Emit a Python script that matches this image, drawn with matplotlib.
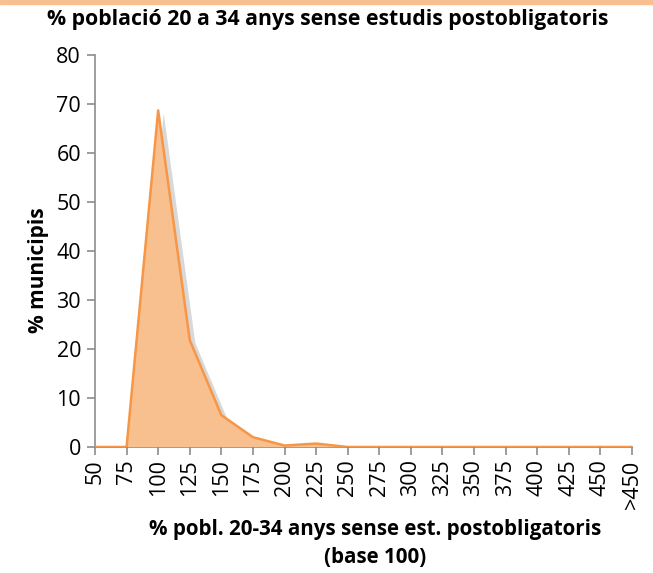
import numpy as np
import matplotlib.pyplot as plt
import matplotlib.patheffects as pe

plt.rcParams['font.family'] = ['Open Sans', 'DejaVu Sans']

categories = ['50', '75', '100', '125', '150', '175', '200', '225', '250', '275',
              '300', '325', '350', '375', '400', '425', '450', '>450']
values = [0, 0, 68.7, 21.8, 6.5, 2.0, 0.3, 0.7, 0, 0,
          0, 0, 0, 0, 0, 0, 0, 0]

fill_color = '#f9c08f'
line_color = '#f79646'
axis_color = '#8c8c8c'

fig = plt.figure(figsize=(6.53, 5.73), dpi=100)
ax = fig.add_axes([95 / 653, 1 - 447 / 573, (632 - 95) / 653, (447 - 55) / 573])

x = np.arange(len(categories))
poly = ax.fill_between(x, values, 0, color=fill_color, lw=0, zorder=2)
poly.set_path_effects([pe.SimplePatchShadow(offset=(4, -2), shadow_rgbFace='#808080', alpha=0.3),
                       pe.Normal()])
ax.plot(x, values, color=line_color, lw=1.8, zorder=3)

ax.set_xlim(0, len(categories) - 1)
ax.set_ylim(0, 80)
ax.set_yticks(range(0, 81, 10))
ax.set_xticks(x)
ax.set_xticklabels(categories, rotation=90)

for s in ['top', 'right']:
    ax.spines[s].set_visible(False)
for s in ['left', 'bottom']:
    ax.spines[s].set_color(axis_color)
    ax.spines[s].set_linewidth(1.2)
    ax.spines[s].set_zorder(1)
ax.tick_params(axis='both', colors=axis_color, labelcolor='black', labelsize=15.5,
               length=6, width=1.2)
ax.tick_params(axis='x', pad=3)
ax.tick_params(axis='y', pad=4)

ax.set_ylabel('% municipis', fontsize=15, fontweight='bold')
ax.yaxis.set_label_coords(49 / 653, 1 - 270 / 573, transform=fig.transFigure)
ax.set_xlabel('% pobl. 20-34 anys sense est. postobligatoris\n(base 100)',
              fontsize=14.8, fontweight='bold', linespacing=1.45)
ax.xaxis.set_label_coords(375 / 653, 1 - 519 / 573, transform=fig.transFigure)

fig.text(328 / 653, 1 - 19 / 573, '% població 20 a 34 anys sense estudis postobligatoris',
         ha='center', va='center', fontsize=15.3, fontweight='bold')

# orange band at the top
fig.patches.append(plt.Rectangle((0, 1 - 4 / 573), 1, 4 / 573, transform=fig.transFigure,
                                 color=fill_color, zorder=0))

fig.savefig('out.png', dpi=100)
